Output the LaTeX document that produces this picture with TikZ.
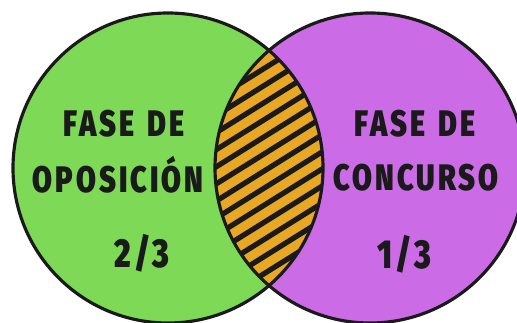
\documentclass[tikz,border=0pt]{standalone}
\usepackage{fontspec}
\newfontfamily\vennfont{Fira Sans}[UprightFont=* Black, LetterSpace=8, FakeStretch=0.78]
\usetikzlibrary{calc}
\definecolor{oposgreen}{HTML}{7ED957}
\definecolor{concpurple}{HTML}{CB6CE6}
\definecolor{lensorange}{HTML}{E9A823}
\definecolor{inkblack}{HTML}{1A1A1A}
\tikzset{venntext/.style={font=\vennfont\fontsize{21}{24}\selectfont, text=inkblack, inner sep=0pt},
  vennnum/.style={venntext, font=\vennfont\fontsize{23}{26}\selectfont}}

\begin{document}
\begin{tikzpicture}[>=latex]
  \useasboundingbox (0,0) rectangle (10.34,6.44);
  \clip (0,0) rectangle (10.34,6.44);
  \coordinate (cl) at (3.36,3.08);
  \coordinate (cr) at (7.40,3.08);
  \coordinate (lens) at ($(cl)!0.5!(cr)$);
  \fill[oposgreen] (cl) circle (3.1);
  \fill[concpurple] (cr) circle (3.1);
  % overlap with stripes
  \begin{scope}
    \clip (cl) circle (3.1);
    \fill[lensorange] (cr) circle (3.1);
    \clip (cr) circle (3.1);
    \foreach \k in {-9,...,9}
      \draw[inkblack, line width=3pt] ($(lens)+(122:{\k*0.29})+(32:-3)$) -- ++(32:6);
  \end{scope}
  \draw[inkblack, line width=1.8pt] (cl) circle (3.1);
  \draw[inkblack, line width=1.8pt] (cr) circle (3.1);

  \node[venntext] (fasel) at (2.48,3.96) {FASE\hspace{0.35em}DE};
  \node[venntext] (oposicion) at (2.36,2.94) {OPOSICIÓN};
  \node[vennnum] (twothirds) at (2.84,1.38) {2/3};
  \node[venntext] (faser) at (8.30,3.96) {FASE\hspace{0.35em}DE};
  \node[venntext] (concurso) at (8.32,2.88) {CONCURSO};
  \node[vennnum] (onethird) at (8.08,1.36) {1/3};
\end{tikzpicture}
\end{document}
